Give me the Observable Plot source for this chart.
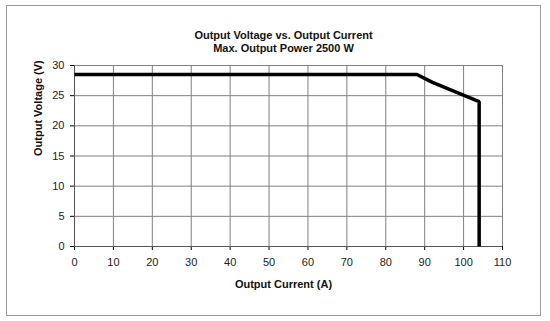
<!DOCTYPE html>
<html>
<head>
<meta charset="utf-8">
<script src="https://cdn.jsdelivr.net/npm/d3@7"></script>
<script src="https://cdn.jsdelivr.net/npm/@observablehq/plot@0.6"></script>
<style>
  html, body { margin: 0; padding: 0; background: #fff; }
  #wrap { position: relative; width: 550px; height: 321px; }
  #border { position: absolute; left: 6px; top: 5px; width: 535px; height: 311px; border: 1px solid #9a9a9a; box-sizing: border-box; pointer-events: none; }
  svg { font-family: "Liberation Sans", Arial, sans-serif; }
</style>
</head>
<body>
<div id="wrap"><div id="border"></div></div>
<script>
const currentA = [0, 88, 92, 104, 104];
const voltageV = [28.5, 28.5, 27.2, 24, 0];
const xTicks = [0, 10, 20, 30, 40, 50, 60, 70, 80, 90, 100, 110];
const yTicks = [0, 5, 10, 15, 20, 25, 30];
const titleLines = ["Output Voltage vs. Output Current", "Max. Output Power 2500 W"];
const xLabel = "Output Current (A)";
const yLabel = "Output Voltage (V)";

const data = currentA.map((c, i) => ({current: c, voltage: voltageV[i]}));

const chart = Plot.plot({
  width: 550,
  height: 321,
  marginLeft: 74,
  marginRight: 48,
  marginTop: 65,
  marginBottom: 75,
  style: {fontFamily: "'Liberation Sans', Arial, sans-serif", fontSize: "11px", background: "transparent"},
  x: {domain: [0, 110]},
  y: {domain: [0, 30]},
  marks: [
    Plot.gridX(xTicks.filter(d => d > 0), {stroke: "#808080", strokeOpacity: 1, strokeWidth: 1}),
    Plot.gridY(yTicks.filter(d => d > 0), {stroke: "#808080", strokeOpacity: 1, strokeWidth: 1}),
    Plot.axisX({ticks: xTicks, tickSize: 4, tickPadding: 8, label: null, fill: "#222"}),
    Plot.axisY({ticks: yTicks, tickSize: 4, tickPadding: 6, label: null, fill: "#222"}),
    Plot.ruleX([0], {stroke: "#555"}),
    Plot.ruleY([0], {stroke: "#555"}),
    Plot.line(data, {x: "current", y: "voltage", stroke: "#000", strokeWidth: 3.5, strokeLinejoin: "miter", strokeLinecap: "butt"}),
    Plot.text([titleLines[0]], {frameAnchor: "top", dy: -34, dx: -5, fontWeight: "bold", fontSize: 11, fill: "#111"}),
    Plot.text([titleLines[1]], {frameAnchor: "top", dy: -21, dx: -5, fontWeight: "bold", fontSize: 11, fill: "#111"}),
    Plot.text([xLabel], {frameAnchor: "bottom", dy: 41, dx: -5, fontWeight: "bold", fontSize: 11, fill: "#111"}),
    Plot.text([yLabel], {frameAnchor: "left", dx: -36, rotate: -90, fontWeight: "bold", fontSize: 11, fill: "#111"})
  ]
});
chart.style.position = "absolute";
chart.style.left = "0px";
chart.style.top = "0px";
document.getElementById("wrap").appendChild(chart);
</script>
</body>
</html>
